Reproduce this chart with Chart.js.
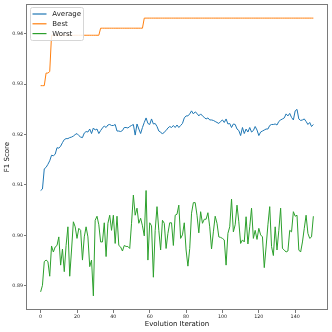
<!DOCTYPE html>
<html>
<head>
<meta charset="utf-8">
<script src="https://cdn.jsdelivr.net/npm/chart.js@4.4.0/dist/chart.umd.min.js"></script>
<style>
    html, body { margin: 0; padding: 0; background: #fff; }
</style>
</head>
<body>
<canvas id="graficoF1" width="332" height="332"></canvas>
<script>
// Datos (F1 por iteracion)
const iteraciones = Array.from({ length: 151 }, (_, i) => i);

const average = [
    0.9089,0.9092,0.9132,0.9135,0.9141,0.9148,0.9159,0.9158,0.9161,0.9174,
    0.9173,0.9177,0.9184,0.9190,0.9192,0.9192,0.9194,0.9195,0.9197,0.9200,
    0.9202,0.9198,0.9195,0.9194,0.9203,0.9206,0.9205,0.9211,0.9202,0.9213,
    0.9209,0.9211,0.9202,0.9208,0.9213,0.9217,0.9214,0.9219,0.9220,0.9218,
    0.9218,0.9220,0.9207,0.9207,0.9206,0.9208,0.9214,0.9214,0.9213,0.9216,
    0.9218,0.9220,0.9199,0.9221,0.9211,0.9202,0.9214,0.9224,0.9233,0.9222,
    0.9220,0.9231,0.9221,0.9222,0.9216,0.9207,0.9205,0.9201,0.9205,0.9208,
    0.9213,0.9216,0.9214,0.9218,0.9214,0.9219,0.9214,0.9218,0.9222,0.9233,
    0.9237,0.9237,0.9241,0.9247,0.9241,0.9245,0.9242,0.9237,0.9241,0.9237,
    0.9234,0.9231,0.9233,0.9229,0.9229,0.9228,0.9226,0.9224,0.9222,0.9226,
    0.9229,0.9224,0.9231,0.9221,0.9222,0.9214,0.9221,0.9220,0.9211,0.9208,
    0.9198,0.9214,0.9202,0.9211,0.9205,0.9214,0.9205,0.9208,0.9216,0.9209,
    0.9198,0.9205,0.9207,0.9209,0.9211,0.9211,0.9218,0.9220,0.9220,0.9221,
    0.9219,0.9226,0.9229,0.9231,0.9233,0.9241,0.9237,0.9242,0.9234,0.9229,
    0.9247,0.9250,0.9231,0.9228,0.9229,0.9231,0.9226,0.9220,0.9224,0.9216,
    0.9220
];

const best = [
    0.9297,0.9297,0.9297,0.9322,0.9322,0.9325,0.9397,0.9397,0.9397,0.9397,
    0.9397,0.9397,0.9397,0.9397,0.9397,0.9397,0.9397,0.9397,0.9397,0.9397,
    0.9397,0.9397,0.9397,0.9397,0.9397,0.9397,0.9397,0.9397,0.9397,0.9397,
    0.9397,0.9397,0.9397,0.9411,0.9411,0.9411,0.9411,0.9411,0.9411,0.9411,
    0.9411,0.9411,0.9411,0.9411,0.9411,0.9411,0.9411,0.9411,0.9411,0.9411,
    0.9411,0.9411,0.9411,0.9411,0.9411,0.9411,0.9411,0.9431,0.9431,0.9431,
    0.9431,0.9431,0.9431,0.9431,0.9431,0.9431,0.9431,0.9431,0.9431,0.9431,
    0.9431,0.9431,0.9431,0.9431,0.9431,0.9431,0.9431,0.9431,0.9431,0.9431,
    0.9431,0.9431,0.9431,0.9431,0.9431,0.9431,0.9431,0.9431,0.9431,0.9431,
    0.9431,0.9431,0.9431,0.9431,0.9431,0.9431,0.9431,0.9431,0.9431,0.9431,
    0.9431,0.9431,0.9431,0.9431,0.9431,0.9431,0.9431,0.9431,0.9431,0.9431,
    0.9431,0.9431,0.9431,0.9431,0.9431,0.9431,0.9431,0.9431,0.9431,0.9431,
    0.9431,0.9431,0.9431,0.9431,0.9431,0.9431,0.9431,0.9431,0.9431,0.9431,
    0.9431,0.9431,0.9431,0.9431,0.9431,0.9431,0.9431,0.9431,0.9431,0.9431,
    0.9431,0.9431,0.9431,0.9431,0.9431,0.9431,0.9431,0.9431,0.9431,0.9431,
    0.9431
];

const worst = [
    0.8888,0.8901,0.8948,0.8951,0.8948,0.8919,0.8979,0.8967,0.8977,0.8980,
    0.8997,0.8941,0.8973,0.8928,0.8980,0.9017,0.8919,0.8971,0.9027,0.9017,
    0.8994,0.9014,0.9010,0.8951,0.8997,0.9017,0.8997,0.8938,0.8951,0.8880,
    0.9030,0.9038,0.9021,0.8987,0.8987,0.9025,0.8958,0.9024,0.9040,0.9010,
    0.9040,0.8984,0.9038,0.8980,0.8977,0.8969,0.8980,0.8978,0.8978,0.8974,
    0.9024,0.9080,0.9040,0.9054,0.9024,0.9034,0.9019,0.8999,0.9089,0.8951,
    0.9025,0.9019,0.8917,0.9010,0.9057,0.9010,0.8971,0.9030,0.9024,0.8974,
    0.9004,0.9025,0.9025,0.8980,0.9040,0.9042,0.9060,0.8994,0.9001,0.9025,
    0.8971,0.8939,0.8974,0.9044,0.9065,0.9065,0.9040,0.9005,0.9047,0.9024,
    0.9032,0.9032,0.9045,0.9017,0.8973,0.9007,0.9038,0.9024,0.8997,0.8996,
    0.8994,0.8991,0.8941,0.9004,0.9017,0.9072,0.9007,0.9021,0.9060,0.9027,
    0.8984,0.8991,0.8987,0.9037,0.8983,0.9017,0.9054,0.8994,0.9010,0.8992,
    0.9014,0.9001,0.8997,0.8936,0.8977,0.9021,0.9057,0.8978,0.8960,0.9017,
    0.8971,0.9010,0.9054,0.8974,0.8971,0.8967,0.8969,0.9010,0.9007,0.9047,
    0.9038,0.9040,0.8971,0.8967,0.8987,0.9014,0.9040,0.9004,0.8994,0.8997,
    0.9038
];

const xTicks = [0, 20, 40, 60, 80, 100, 120, 140];
const yTicks = [0.89, 0.90, 0.91, 0.92, 0.93, 0.94];

const COLORES = {
    AVERAGE: '#1f77b4',
    BEST: '#ff7f0e',
    WORST: '#2ca02c',
    TEXTO: '#222'
};
const FUENTE = "'DejaVu Sans', sans-serif";

function aPuntos(serie) {
    return serie.map((v, i) => ({ x: iteraciones[i], y: v }));
}

// Marco de los ejes (cuatro lados)
const marcoPlugin = {
    id: 'marco',
    afterDraw(chart) {
        const { ctx, chartArea: a } = chart;
        ctx.save();
        ctx.strokeStyle = '#7a7a7a';
        ctx.lineWidth = 1;
        ctx.strokeRect(Math.round(a.left) - 0.5, Math.round(a.top) + 0.5,
            Math.round(a.right - a.left) + 1, Math.round(a.bottom - a.top) - 1);
        ctx.restore();
    }
};

// Leyenda dentro del area, arriba a la izquierda
const leyendaPlugin = {
    id: 'leyendaInterna',
    afterDatasetsDraw(chart) {
        const { ctx } = chart;
        const x0 = 30, y0 = 7.5, w = 53, h = 33;
        ctx.save();
        ctx.beginPath();
        ctx.roundRect(x0 + 0.5, y0, w, h, 2);
        ctx.fillStyle = 'rgba(255,255,255,0.85)';
        ctx.fill();
        ctx.strokeStyle = '#d6d6d6';
        ctx.lineWidth = 1;
        ctx.stroke();
        ctx.font = '7px ' + FUENTE;
        ctx.textBaseline = 'middle';
        chart.data.datasets.forEach((ds, i) => {
            const y = 14 + i * 9.8;
            ctx.beginPath();
            ctx.moveTo(32.5, y);
            ctx.lineTo(46.5, y);
            ctx.strokeStyle = ds.borderColor;
            ctx.lineWidth = 1.2;
            ctx.stroke();
            ctx.fillStyle = COLORES.TEXTO;
            ctx.fillText(ds.label, 52.3, y + 0.5);
        });
        ctx.restore();
    }
};

new Chart(document.getElementById('graficoF1').getContext('2d'), {
    type: 'line',
    data: {
        datasets: [
            { label: 'Average', data: aPuntos(average), borderColor: COLORES.AVERAGE },
            { label: 'Best', data: aPuntos(best), borderColor: COLORES.BEST },
            { label: 'Worst', data: aPuntos(worst), borderColor: COLORES.WORST }
        ]
    },
    options: {
        responsive: false,
        animation: false,
        devicePixelRatio: 1,
        layout: { padding: { left: 0, right: 5, top: 4, bottom: 0 } },
        elements: {
            line: { borderWidth: 1, tension: 0, fill: false },
            point: { radius: 0, hoverRadius: 0 }
        },
        plugins: {
            legend: { display: false },
            tooltip: { enabled: false }
        },
        scales: {
            x: {
                type: 'linear',
                min: -7.5,
                max: 157.5,
                afterBuildTicks: (scale) => { scale.ticks = xTicks.map(v => ({ value: v })); },
                afterFit: (scale) => { scale.height = 22; },
                grid: { drawOnChartArea: false, drawTicks: true, tickLength: 3, color: '#555', lineWidth: 0.8 },
                border: { display: false },
                ticks: { color: COLORES.TEXTO, font: { family: FUENTE, size: 4.8 }, padding: 1, maxRotation: 0 },
                title: {
                    display: true, text: 'Evolution Iteration', color: '#111',
                    font: { family: FUENTE, size: 7 }, padding: { top: 0, bottom: 4 }
                }
            },
            y: {
                min: 0.8852,
                max: 0.9459,
                afterBuildTicks: (scale) => { scale.ticks = yTicks.map(v => ({ value: v })); },
                afterFit: (scale) => { scale.width = 27; },
                grid: { drawOnChartArea: false, drawTicks: true, tickLength: 3, color: '#555', lineWidth: 0.8 },
                border: { display: false },
                ticks: {
                    color: COLORES.TEXTO, font: { family: FUENTE, size: 4.8 }, padding: 1,
                    callback: (v) => v.toFixed(2)
                },
                title: {
                    display: true, text: 'F1 Score', color: '#111',
                    font: { family: FUENTE, size: 7 }, padding: { top: 3, bottom: 0 }
                }
            }
        }
    },
    plugins: [leyendaPlugin, marcoPlugin]
});
</script>
</body>
</html>
